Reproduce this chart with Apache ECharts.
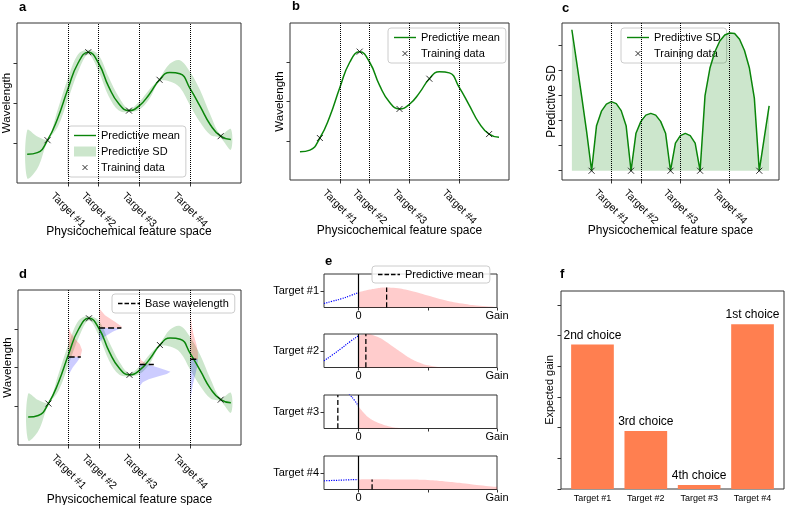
<!DOCTYPE html>
<html>
<head>
<meta charset="UTF-8">
<script src="https://cdn.jsdelivr.net/npm/echarts@6/dist/echarts.min.js"></script>
<style>
  html, body { margin: 0; padding: 0; background: #fff; }
  #main { width: 786px; height: 505px; }
</style>
</head>
<body>
<div id="main"></div>
<script>
// ---- data ----
const xGrid = [0, 0.5, 1, 1.5, 2, 2.5, 3, 3.5, 4, 4.5, 5, 5.5, 6, 6.5, 7, 7.5, 8, 8.5, 9, 9.5, 10];
const meanWl = [0.72, 0.76, 1.07, 1.62, 2.35, 3.0, 3.27, 3.0, 2.41, 1.98, 1.81, 1.93, 2.22, 2.58, 2.76, 2.73, 2.36, 1.91, 1.45, 1.17, 1.09];
const sdWl = [0.6, 0.4, 0.03, 0.22, 0.27, 0.22, 0.06, 0.2, 0.24, 0.17, 0.04, 0.1, 0.12, 0.04, 0.22, 0.34, 0.42, 0.4, 0.25, 0.05, 0.26];

const xFine = [0, 0.25, 0.5, 0.75, 1, 1.25, 1.5, 1.75, 2, 2.25, 2.5, 2.75, 3, 3.25, 3.5, 3.75, 4, 4.25, 4.5, 4.75, 5,
  5.25, 5.5, 5.75, 6, 6.25, 6.5, 6.75, 7, 7.25, 7.5, 7.75, 8, 8.25, 8.5, 8.75, 9, 9.25, 9.5, 9.75, 10];
const sdC = [5.63, 4.3, 2.95, 1.55, 0, 1.8, 2.38, 2.66, 2.76, 2.68, 2.4, 1.8, 0, 1.5, 1.97, 2.22, 2.29, 2.22, 1.97, 1.5, 0,
  1.1, 1.4, 1.49, 1.4, 1.1, 0, 3.0, 4.1, 4.75, 5.18, 5.42, 5.5, 5.48, 5.25, 4.8, 4.1, 2.9, 0, 1.3, 2.59];

const trainX = [1.0, 3.0, 5.0, 6.5, 9.5];
const trainWl = [1.07, 3.27, 1.81, 2.58, 1.17];
const trainSd = [0, 0, 0, 0, 0];

const targetX = [2.0, 3.5, 5.5, 8.0];
const targetNames = ['Target #1', 'Target #2', 'Target #3', 'Target #4'];

// panel d: base wavelength per target and sideways densities [wavelength, width]
const baseWl = [2.27, 3.02, 2.08, 2.21];
const baseLen = [0.6, 1.1, 0.7, 0.4];
const distT1 = [[3.05, 0], [2.9, 0.1], [2.75, 0.3], [2.6, 0.55], [2.45, 0.66], [2.27, 0.58], [2.15, 0.42], [2.0, 0.2], [1.85, 0.04], [1.8, 0]];
const distT2 = [[3.53, 0], [3.35, 0.29], [3.18, 0.78], [3.06, 1.11], [3.02, 1.11], [2.93, 0.69], [2.8, 0.29], [2.67, 0.05], [2.6, 0]];
const distT3 = [[2.27, 0.01], [2.18, 0.09], [2.08, 0.42], [2.0, 0.9], [1.95, 1.2], [1.89, 1.52], [1.83, 1.34], [1.77, 0.9], [1.7, 0.45], [1.62, 0.15], [1.53, 0.02]];
const distT4 = [[3.35, 0.02], [3.1, 0.07], [2.85, 0.16], [2.6, 0.3], [2.4, 0.37], [2.21, 0.38], [2.0, 0.33], [1.8, 0.24], [1.55, 0.12], [1.3, 0.04], [1.1, 0.01]];
const dists = [distT1, distT2, distT3, distT4];

// panel e: gain densities (fraction of subplot height)
const gainRed = [
  [0, 0.25, 0.5, 0.75, 1, 1.5, 2, 2.5, 3, 3.5, 4],
  [0, 0.25, 0.5, 0.75, 1, 1.25, 1.5, 1.75, 2, 2.5, 3, 4],
  [0, 0.15, 0.3, 0.5, 0.7, 0.9, 1.1, 1.5, 4],
  [0, 0.5, 1, 1.5, 2, 2.5, 3, 3.5, 4]
];
const densRed = [
  [0.45, 0.52, 0.57, 0.6, 0.59, 0.5, 0.36, 0.22, 0.12, 0.05, 0.02],
  [0.95, 0.99, 0.93, 0.8, 0.62, 0.44, 0.27, 0.15, 0.07, 0.01, 0, 0],
  [0.66, 0.47, 0.32, 0.2, 0.12, 0.06, 0.02, 0, 0],
  [0.3, 0.305, 0.3, 0.295, 0.28, 0.24, 0.19, 0.13, 0.08]
];
const gainBlue = [
  [-1, -0.75, -0.5, -0.25, 0],
  [-1, -0.75, -0.5, -0.25, 0],
  [-0.5, -0.25, -0.125, 0],
  [-1, -0.5, 0]
];
const densBlue = [
  [0.12, 0.19, 0.26, 0.35, 0.45],
  [0.2, 0.38, 0.57, 0.77, 0.95],
  [1.3, 1.0, 0.85, 0.66],
  [0.26, 0.28, 0.3]
];
const meanGain = [0.81, 0.21, -0.6, 0.39];
const meanGainTop = [0.6, 1.0, 1.0, 0.3];

// panel f
const expGain = [4.71, 1.89, 0.13, 5.37];
const choiceLabels = ['2nd choice', '3rd choice', '4th choice', '1st choice'];

// ---- styling ----
const font = "'Liberation Sans', Arial, Helvetica, sans-serif";
const green = '#0a850a';
const bandFill = 'rgba(0,128,0,0.2)';
const redFill = 'rgba(255,0,0,0.2)';
const blueFill = 'rgba(0,0,255,0.2)';
const xMark = 'path://M0,0M10,10M2.5,2.5L7.5,7.5M7.5,2.5L2.5,7.5';
const lineIcon = 'path://M0,0M22,10M0,4.3H22V5.7H0Z';
const dashIcon = 'path://M0,0M22,10M0,4.3H4.5V5.7H0Z M6.5,4.3H11V5.7H6.5Z M13,4.3H17.5V5.7H13Z M19.5,4.3H22V5.7H19.5Z';

const xy = (xs, ys) => xs.map((x, i) => [x, ys[i]]);

const chart = echarts.init(document.getElementById('main'), null, { renderer: 'canvas' });

const frame = (left, top, width, height) => ({
  left, top, width, height, show: true, borderColor: '#333', borderWidth: 1,
  containLabel: false, outerBoundsMode: 'none'
});

const grids = [
  frame(17, 23, 224, 160),
  frame(290, 23, 219, 157),
  frame(562, 23, 217, 157),
  frame(18, 290, 223, 155),
  frame(324, 274, 173, 33.5),
  frame(324, 334, 173, 33.5),
  frame(324, 395, 173, 33.5),
  frame(324, 456, 173, 33.5),
  frame(561, 291, 223, 198)
];

const tickStyle = { color: '#333', width: 1 };
const noLine = { show: false, onZero: false };

function featX(gi, gap) {
  return {
    type: 'value', gridIndex: gi, min: -0.5, max: 10.5,
    axisLine: noLine, splitLine: { show: false },
    axisTick: { show: true, customValues: targetX, length: 3.5, lineStyle: tickStyle },
    axisLabel: {
      customValues: targetX, formatter: v => targetNames[targetX.indexOf(v)],
      rotate: -45, align: 'center', verticalAlign: 'middle', margin: 27, fontSize: 10.5, color: '#000'
    },
    name: 'Physicochemical feature space', nameLocation: 'middle', nameGap: gap, nameMoveOverlap: false,
    nameTextStyle: { fontSize: 12, color: '#000' }
  };
}
function valY(gi, min, max, ticks, name, size) {
  return {
    type: 'value', gridIndex: gi, min, max,
    axisLine: noLine, splitLine: { show: false },
    axisTick: { show: true, customValues: ticks, length: 3.5, lineStyle: tickStyle },
    axisLabel: { show: false },
    name, nameLocation: 'middle', nameGap: 4, nameRotate: 90, nameMoveOverlap: false,
    nameTextStyle: { fontSize: size, color: '#000' }
  };
}
function gainX(k) {
  return {
    type: 'value', gridIndex: 4 + k, min: -1, max: 4,
    axisLine: noLine, splitLine: { show: false },
    axisTick: { show: true, customValues: [0, 2, 4], length: 3, lineStyle: tickStyle },
    axisLabel: { customValues: [0, 4], formatter: v => (v === 0 ? '0' : 'Gain'), fontSize: 11, margin: 3, color: '#000' }
  };
}
function gainY(k) {
  return {
    type: 'value', gridIndex: 4 + k, min: 0, max: 1,
    axisLine: noLine, splitLine: { show: false },
    axisTick: { show: true, customValues: [0.5], length: 3.5, lineStyle: tickStyle },
    axisLabel: { customValues: [0.5], formatter: () => targetNames[k], fontSize: 11, margin: 5, color: '#000' }
  };
}

const xAxes = [featX(0, 43), featX(1, 45), featX(2, 45), featX(3, 49),
  gainX(0), gainX(1), gainX(2), gainX(3),
  {
    type: 'value', gridIndex: 8, min: -0.59, max: 3.59,
    axisLine: noLine, splitLine: { show: false }, axisTick: { show: false },
    axisLabel: { customValues: [0, 1, 2, 3], formatter: v => targetNames[v], fontSize: 9, margin: 5, color: '#000' }
  }];
const yAxes = [valY(0, 0, 4, [1, 2, 3], 'Wavelength', 11.5), valY(1, 0, 4, [1, 2, 3], 'Wavelength', 11.5),
  valY(2, -0.37, 5.9, [0, 1, 2, 3, 4, 5], 'Predictive SD', 12), valY(3, 0, 4, [1, 2, 3], 'Wavelength', 11.5),
  gainY(0), gainY(1), gainY(2), gainY(3),
  Object.assign(valY(8, 0, 6.45, [0, 1, 2, 3, 4, 5, 6], 'Expected gain', 11), { nameGap: 6 })];

const markTargets = {
  silent: true, symbol: ['none', 'none'], label: { show: false },
  lineStyle: { type: 'dotted', color: '#000', width: 1 },
  data: targetX.map(x => ({ xAxis: x }))
};
const trainStyle = {
  symbol: xMark, symbolSize: 12, z: 6,
  itemStyle: { color: 'transparent', borderColor: '#000', borderWidth: 1 }
};

// mean +/- sd band as one closed, smoothed outline
function bandSeries(gi, name) {
  const upper = xGrid.map((x, i) => [x, meanWl[i] + sdWl[i]]);
  const lower = xGrid.map((x, i) => [x, meanWl[i] - sdWl[i]]).reverse();
  const outline = upper.concat(lower);
  return {
    type: 'custom', name, xAxisIndex: gi, yAxisIndex: gi, data: outline, silent: true, z: 2,
    itemStyle: { color: bandFill },
    renderItem: (params, api) => {
      if (params.dataIndex !== 0) return null;
      return { type: 'polygon', shape: { points: outline.map(p => api.coord(p)), smooth: 0.35 },
        style: { fill: bandFill } };
    }
  };
}
function meanSeries(gi) {
  return { type: 'line', name: 'Predictive mean', xAxisIndex: gi, yAxisIndex: gi, data: xy(xGrid, meanWl),
    smooth: true, symbol: 'none', lineStyle: { color: green, width: 1.5 }, itemStyle: { color: green },
    markLine: markTargets, z: 4 };
}
function polySeries(gi, pts, color) {
  return {
    type: 'custom', xAxisIndex: gi, yAxisIndex: gi, data: pts, silent: true, z: 3,
    renderItem: (params, api) => {
      if (params.dataIndex !== 0) return null;
      return { type: 'polygon', shape: { points: pts.map(p => api.coord(p)) }, style: { fill: color } };
    }
  };
}

const series = [];
// a
series.push(bandSeries(0, 'Predictive SD'), meanSeries(0),
  Object.assign({ type: 'scatter', name: 'Training data', xAxisIndex: 0, yAxisIndex: 0, data: xy(trainX, trainWl) }, trainStyle));
// b
series.push(meanSeries(1),
  Object.assign({ type: 'scatter', name: 'Training data', xAxisIndex: 1, yAxisIndex: 1, data: xy(trainX, trainWl) }, trainStyle));
// c
series.push({ type: 'line', name: 'sdLine', xAxisIndex: 2, yAxisIndex: 2, data: xy(xFine, sdC), symbol: 'none',
  lineStyle: { color: green, width: 1.5 }, itemStyle: { color: green }, areaStyle: { color: bandFill, opacity: 1 },
  markLine: markTargets, z: 4 },
  Object.assign({ type: 'scatter', name: 'Training data', xAxisIndex: 2, yAxisIndex: 2, data: xy(trainX, trainSd) }, trainStyle));
// d
series.push(bandSeries(3, '_sdD'), meanSeries(3),
  Object.assign({ type: 'scatter', name: '_trainD', xAxisIndex: 3, yAxisIndex: 3, data: xy(trainX, trainWl) }, trainStyle));
dists.forEach((d, k) => {
  const tx = targetX[k], b = baseWl[k];
  const up = d.filter(p => p[0] >= b), dn = d.filter(p => p[0] <= b);
  const red = [[tx, b], [tx, up[0][0]]].concat(up.map(p => [tx + p[1], p[0]]));
  const blue = [[tx, b]].concat(dn.map(p => [tx + p[1], p[0]]), [[tx, dn[dn.length - 1][0]]]);
  series.push(polySeries(3, red, redFill), polySeries(3, blue, blueFill));
  series.push({ type: 'line', name: 'Base wavelength', xAxisIndex: 3, yAxisIndex: 3,
    data: [[tx, b], [tx + baseLen[k], b]], symbol: 'none', z: 5,
    lineStyle: { color: '#000', type: 'dashed', width: 1.5 }, itemStyle: { color: '#000' } });
});
// e
for (let k = 0; k < 4; k++) {
  const gi = 4 + k;
  series.push({ type: 'line', name: '_red' + k, xAxisIndex: gi, yAxisIndex: gi, data: xy(gainRed[k], densRed[k]),
    smooth: true, symbol: 'none', lineStyle: { width: 0 }, areaStyle: { color: redFill, opacity: 1 }, silent: true,
    markLine: { silent: true, symbol: ['none', 'none'], label: { show: false },
      lineStyle: { type: 'solid', color: '#000', width: 1.2 }, data: [{ xAxis: 0 }] } });
  series.push({ type: 'line', name: '_blue' + k, xAxisIndex: gi, yAxisIndex: gi, data: xy(gainBlue[k], densBlue[k]),
    smooth: true, symbol: 'none', lineStyle: { color: '#0000ff', type: 'dotted', width: 1.2 }, z: 4 });
  series.push({ type: 'line', name: 'meanGain', xAxisIndex: gi, yAxisIndex: gi,
    data: [[meanGain[k], 0], [meanGain[k], meanGainTop[k]]], symbol: 'none', z: 5,
    lineStyle: { color: '#000', type: 'dashed', width: 1.3 }, itemStyle: { color: '#000' } });
}
// f
series.push({ type: 'bar', name: '_gain', xAxisIndex: 8, yAxisIndex: 8, data: xy([0, 1, 2, 3], expGain),
  barWidth: 42.7, itemStyle: { color: '#ff7f50' },
  label: { show: true, position: 'top', distance: 3, fontSize: 12, color: '#000',
    formatter: p => choiceLabels[p.dataIndex] } });

const legendBase = {
  orient: 'vertical', itemWidth: 22, itemHeight: 10, itemGap: 5, padding: [4, 6, 4, 6],
  backgroundColor: 'rgba(255,255,255,0.85)', borderColor: '#ccc', borderWidth: 1, borderRadius: 3,
  selectedMode: false, textStyle: { fontSize: 11, color: '#000' }
};
const trainLegend = { name: 'Training data', itemStyle: { color: 'transparent', borderColor: '#000', borderWidth: 1 } };
const lineLegend = (name, color, icon) => ({ name, icon, itemStyle: { color, borderWidth: 0 } });

const letter = (text, left, top) => ({ text, left, top, padding: 0,
  textStyle: { fontSize: 13, fontWeight: 'bold', color: '#000', fontFamily: font } });

chart.setOption({
  animation: false,
  textStyle: { fontFamily: font, color: '#000' },
  title: [letter('a', 19, 1), letter('b', 292, 0), letter('c', 562, 2),
    letter('d', 19, 268), letter('e', 325, 255), letter('f', 560, 268)],
  grid: grids,
  xAxis: xAxes,
  yAxis: yAxes,
  legend: [
    Object.assign({}, legendBase, { left: 68, top: 126, data: [lineLegend('Predictive mean', green, lineIcon),
      { name: 'Predictive SD', icon: 'rect', itemStyle: { color: bandFill, borderWidth: 0 } }, trainLegend] }),
    Object.assign({}, legendBase, { left: 388, top: 28, data: [lineLegend('Predictive mean', green, lineIcon), trainLegend] }),
    Object.assign({}, legendBase, { left: 621, top: 28, data: [lineLegend('sdLine', green, lineIcon), trainLegend],
      formatter: n => (n === 'sdLine' ? 'Predictive SD' : n) }),
    Object.assign({}, legendBase, { left: 112, top: 294, data: [lineLegend('Base wavelength', '#000', dashIcon)] }),
    Object.assign({}, legendBase, { left: 372, top: 266, padding: [3, 6, 3, 6],
      data: [lineLegend('meanGain', '#000', dashIcon)], formatter: () => 'Predictive mean' })
  ],
  series
});
</script>
</body>
</html>
